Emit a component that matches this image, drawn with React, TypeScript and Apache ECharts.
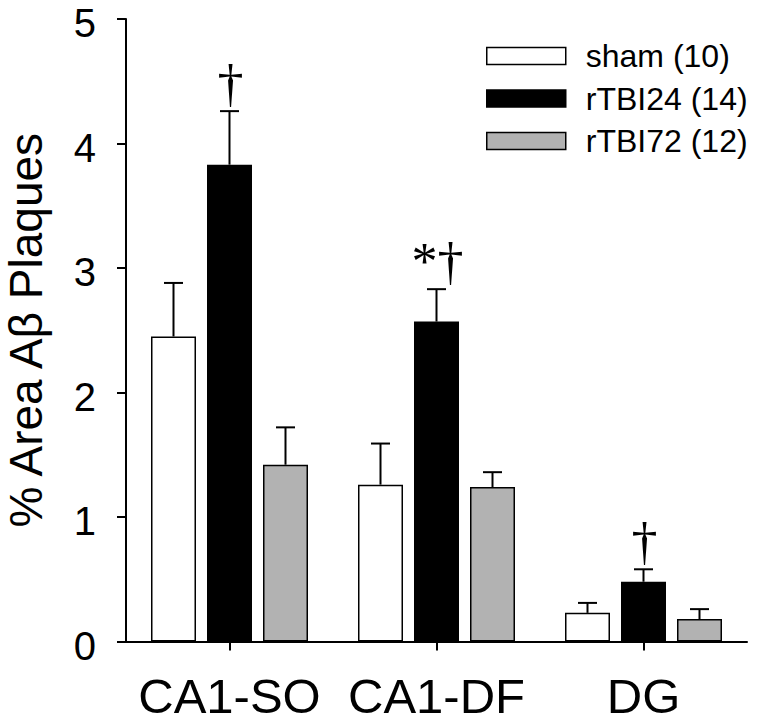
import React, { useEffect, useRef } from "react";
import * as echarts from "echarts";

const categories = ["CA1-SO", "CA1-DF", "DG"];
const seriesNames = ["sham (10)", "rTBI24 (14)", "rTBI72 (12)"];
const shamMean = [2.45, 1.26, 0.23];
const shamSem = [0.43, 0.33, 0.08];
const tbi24Mean = [3.83, 2.57, 0.48];
const tbi24Sem = [0.43, 0.26, 0.1];
const tbi72Mean = [1.42, 1.24, 0.18];
const tbi72Sem = [0.3, 0.12, 0.08];
const tbi24Marks = ["†", "*†", "†"];
const yTicks = [0, 1, 2, 3, 4, 5];

const FONT = "'Liberation Sans', Arial, Helvetica, sans-serif";
const BAR_W = 45;
const BAR_GAP = 11;
const colors = ["#ffffff", "#000000", "#b2b2b2"];

function errSeries(means: number[], sems: number[], idx: number, marks?: string[]) {
  const offset = (idx - 1) * (BAR_W + BAR_GAP);
  return {
    type: "custom",
    name: seriesNames[idx] + " err",
    z: 3,
    silent: true,
    renderItem: (params: any, api: any) => {
      const ci = api.value(0);
      const mean = api.value(1);
      const top = api.value(2);
      const p0 = api.coord([ci, mean]);
      const p1 = api.coord([ci, top]);
      const x = p0[0] + offset;
      const children: any[] = [
        {
          type: "line",
          shape: { x1: x, y1: p0[1], x2: x, y2: p1[1] },
          style: { stroke: "#000", lineWidth: 2 },
        },
        {
          type: "line",
          shape: { x1: x - 9.5, y1: p1[1], x2: x + 9.5, y2: p1[1] },
          style: { stroke: "#000", lineWidth: 2 },
        },
      ];
      if (marks && marks[params.dataIndex]) {
        children.push({
          type: "text",
          x: x + 1,
          y: p1[1] - 2,
          style: {
            text: marks[params.dataIndex],
            fontSize: 52,
            fontFamily: "'Liberation Serif', 'Times New Roman', serif",
            align: "center",
            verticalAlign: "bottom",
            fill: "#000",
          },
        });
      }
      return { type: "group", children };
    },
    data: means.map((m, i) => [i, m, m + sems[i]]),
  };
}

function barSeries(means: number[], idx: number) {
  return {
    type: "bar",
    name: seriesNames[idx],
    data: means,
    barWidth: BAR_W,
    barGap: (BAR_GAP / BAR_W) * 100 + "%",
    itemStyle: { color: colors[idx], borderColor: "#000", borderWidth: 1.5 },
    emphasis: { disabled: true },
  };
}

export default function App() {
  const ref = useRef<HTMLDivElement>(null);
  useEffect(() => {
    if (!ref.current) return;
    const chart = echarts.init(ref.current, undefined, { renderer: "svg" });
    chart.setOption({
      animation: false,
      backgroundColor: "#ffffff",
      textStyle: { fontFamily: FONT },
      grid: {
        left: 126,
        right: 13,
        top: 19,
        bottom: 80.5,
        containLabel: false,
        outerBoundsMode: "none",
      },
      legend: {
        data: seriesNames,
        orient: "vertical",
        left: 486,
        top: 40,
        padding: 0,
        itemWidth: 79,
        itemHeight: 17,
        itemGap: 10.5,
        icon: "rect",
        selectedMode: false,
        itemStyle: { borderColor: "#000", borderWidth: 1.5 },
        textStyle: {
          fontSize: 32,
          color: "#000",
          fontFamily: FONT,
          lineHeight: 32,
          padding: [0, 0, 0, 15],
        },
      },
      xAxis: {
        type: "category",
        data: categories,
        axisLine: { lineStyle: { color: "#000", width: 2 } },
        axisTick: { show: true, alignWithLabel: true, length: 9, lineStyle: { color: "#000", width: 2 } },
        axisLabel: { fontSize: 49, color: "#000", margin: 30, interval: 0, fontFamily: FONT },
      },
      yAxis: {
        type: "value",
        min: yTicks[0],
        max: yTicks[yTicks.length - 1],
        interval: 1,
        name: "% Area Aβ Plaques",
        nameLocation: "middle",
        nameRotate: 90,
        nameGap: 77,
        nameTextStyle: { fontSize: 46, color: "#000", fontFamily: FONT },
        axisLine: { show: true, lineStyle: { color: "#000", width: 2 } },
        axisTick: { show: true, length: 9, lineStyle: { color: "#000", width: 2 } },
        splitLine: { show: false },
        axisLabel: {
          color: "#000",
          margin: 30,
          fontFamily: FONT,
          formatter: (v: number) => `{v|${v}}`,
          rich: {
            v: {
              fontSize: 40,
              lineHeight: 32,
              color: "#000",
              fontFamily: FONT,
              padding: [8, 0, 0, 0],
            },
          },
        },
      },
      series: [
        barSeries(shamMean, 0),
        barSeries(tbi24Mean, 1),
        barSeries(tbi72Mean, 2),
        errSeries(shamMean, shamSem, 0),
        errSeries(tbi24Mean, tbi24Sem, 1, tbi24Marks),
        errSeries(tbi72Mean, tbi72Sem, 2),
      ],
    });
    return () => chart.dispose();
  }, []);
  return (
    <div
      ref={ref}
      style={{ position: "absolute", left: 0, top: 0, width: 760, height: 722, background: "#fff" }}
    />
  );
}
